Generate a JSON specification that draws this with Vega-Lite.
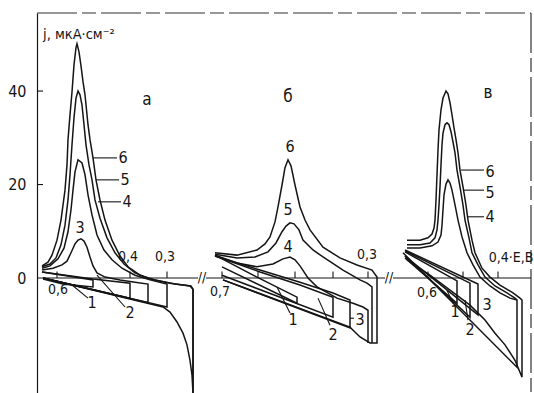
{
"$schema":"https://vega.github.io/schema/vega-lite/v6.json",
"width":494,"height":380,"autosize":"none",
"padding":{"left":37,"top":13,"right":3,"bottom":0},
"background":"white",
"config":{"view":{"stroke":null},"font":"Liberation Sans Narrow, DejaVu Sans Condensed, Liberation Sans, sans-serif"},
"datasets":{
"curves":[
{"c":"a6","o":1,"x":42,"j":2.6},{"c":"a6","o":2,"x":48,"j":3.4},{"c":"a6","o":3,"x":52,"j":4.9},{"c":"a6","o":4,"x":57,"j":8.1},{"c":"a6","o":5,"x":61,"j":12.4},{"c":"a6","o":6,"x":65,"j":18.8},{"c":"a6","o":7,"x":67,"j":24.2},{"c":"a6","o":8,"x":68,"j":29.6},{"c":"a6","o":9,"x":70,"j":34.9},{"c":"a6","o":10,"x":72,"j":39.8},{"c":"a6","o":11,"x":74,"j":45.6},{"c":"a6","o":12,"x":76,"j":49.3},{"c":"a6","o":13,"x":77,"j":50.1},{"c":"a6","o":14,"x":79,"j":48.4},{"c":"a6","o":15,"x":81,"j":45.4},{"c":"a6","o":16,"x":83,"j":42.0},{"c":"a6","o":17,"x":85,"j":39.2},{"c":"a6","o":18,"x":88,"j":32.8},{"c":"a6","o":19,"x":90,"j":29.6},{"c":"a6","o":20,"x":93,"j":25.7},{"c":"a6","o":21,"x":96,"j":21.0},{"c":"a6","o":22,"x":100,"j":16.7},{"c":"a6","o":23,"x":105,"j":12.4},{"c":"a6","o":24,"x":112,"j":8.1},{"c":"a6","o":25,"x":120,"j":4.7},{"c":"a6","o":26,"x":128,"j":2.4},{"c":"a6","o":27,"x":140,"j":0.6},{"c":"a6","o":28,"x":155,"j":-0.4},{"c":"a6","o":29,"x":175,"j":-1.3},{"c":"a6","o":30,"x":191,"j":-1.7},{"c":"a6","o":31,"x":193,"j":-2.4},{"c":"a6","o":32,"x":193,"j":-24.6},{"c":"a6","o":33,"x":192,"j":-20.8},{"c":"a6","o":34,"x":190,"j":-17.6},{"c":"a6","o":35,"x":187,"j":-14.3},{"c":"a6","o":36,"x":183,"j":-11.8},{"c":"a6","o":37,"x":177,"j":-9.4},{"c":"a6","o":38,"x":170,"j":-7.3},{"c":"a6","o":39,"x":163,"j":-6.2},{"c":"a6","o":40,"x":43,"j":0},
{"c":"a5","o":1,"x":42,"j":2.4},{"c":"a5","o":2,"x":50,"j":3.0},{"c":"a5","o":3,"x":56,"j":4.3},{"c":"a5","o":4,"x":61,"j":7.1},{"c":"a5","o":5,"x":65,"j":11.3},{"c":"a5","o":6,"x":68,"j":16.7},{"c":"a5","o":7,"x":70,"j":22.1},{"c":"a5","o":8,"x":72,"j":28.5},{"c":"a5","o":9,"x":74,"j":34.3},{"c":"a5","o":10,"x":76,"j":38.5},{"c":"a5","o":11,"x":78,"j":40.0},{"c":"a5","o":12,"x":80,"j":39.2},{"c":"a5","o":13,"x":82,"j":37.0},{"c":"a5","o":14,"x":84,"j":32.8},{"c":"a5","o":15,"x":86,"j":28.5},{"c":"a5","o":16,"x":89,"j":24.2},{"c":"a5","o":17,"x":92,"j":21.0},{"c":"a5","o":18,"x":95,"j":16.7},{"c":"a5","o":19,"x":100,"j":12.8},{"c":"a5","o":20,"x":107,"j":8.6},{"c":"a5","o":21,"x":115,"j":5.4},{"c":"a5","o":22,"x":124,"j":3.0},{"c":"a5","o":23,"x":135,"j":1.1},{"c":"a5","o":24,"x":150,"j":-0.2},{"c":"a5","o":25,"x":170,"j":-1.1},{"c":"a5","o":26,"x":190,"j":-1.7},{"c":"a5","o":27,"x":193,"j":-2.4},{"c":"a5","o":28,"x":193,"j":-24.6},
{"c":"a4","o":1,"x":42,"j":2.1},{"c":"a4","o":2,"x":50,"j":2.6},{"c":"a4","o":3,"x":58,"j":4.1},{"c":"a4","o":4,"x":64,"j":6.4},{"c":"a4","o":5,"x":68,"j":9.9},{"c":"a4","o":6,"x":71,"j":14.6},{"c":"a4","o":7,"x":73,"j":18.8},{"c":"a4","o":8,"x":75,"j":22.7},{"c":"a4","o":9,"x":78,"j":25.3},{"c":"a4","o":10,"x":82,"j":24.6},{"c":"a4","o":11,"x":85,"j":22.1},{"c":"a4","o":12,"x":88,"j":17.8},{"c":"a4","o":13,"x":92,"j":13.5},{"c":"a4","o":14,"x":97,"j":9.2},{"c":"a4","o":15,"x":104,"j":6.0},{"c":"a4","o":16,"x":112,"j":3.9},{"c":"a4","o":17,"x":122,"j":2.1},{"c":"a4","o":18,"x":135,"j":0.6},{"c":"a4","o":19,"x":150,"j":-0.4},{"c":"a4","o":20,"x":167,"j":-1.3},{"c":"a4","o":21,"x":167,"j":-6.2},{"c":"a4","o":22,"x":43,"j":0},
{"c":"a3","o":1,"x":42,"j":1.7},{"c":"a3","o":2,"x":53,"j":2.1},{"c":"a3","o":3,"x":62,"j":2.8},{"c":"a3","o":4,"x":67,"j":3.6},{"c":"a3","o":5,"x":71,"j":5.4},{"c":"a3","o":6,"x":75,"j":7.3},{"c":"a3","o":7,"x":78,"j":8.1},{"c":"a3","o":8,"x":81,"j":8.4},{"c":"a3","o":9,"x":84,"j":7.9},{"c":"a3","o":10,"x":87,"j":6.6},{"c":"a3","o":11,"x":90,"j":4.5},{"c":"a3","o":12,"x":93,"j":2.6},{"c":"a3","o":13,"x":97,"j":1.1},{"c":"a3","o":14,"x":105,"j":0.2},{"c":"a3","o":15,"x":120,"j":-0.4},{"c":"a3","o":16,"x":135,"j":-0.9},{"c":"a3","o":17,"x":148,"j":-1.3},{"c":"a3","o":18,"x":148,"j":-5.3},{"c":"a3","o":19,"x":43,"j":0},
{"c":"a2","o":1,"x":42,"j":1.3},{"c":"a2","o":2,"x":93,"j":-0.2},{"c":"a2","o":3,"x":130,"j":-1.1},{"c":"a2","o":4,"x":130,"j":-4.3},{"c":"a2","o":5,"x":43,"j":0},
{"c":"a1","o":1,"x":42,"j":1.3},{"c":"a1","o":2,"x":93,"j":-0.4},{"c":"a1","o":3,"x":93,"j":-1.9},{"c":"a1","o":4,"x":63,"j":-1.3},{"c":"a1","o":5,"x":43,"j":-0.2},
{"c":"b6","o":1,"x":215,"j":5.4},{"c":"b6","o":2,"x":237,"j":4.9},{"c":"b6","o":3,"x":257,"j":6.0},{"c":"b6","o":4,"x":265,"j":7.3},{"c":"b6","o":5,"x":270,"j":8.8},{"c":"b6","o":6,"x":275,"j":12.0},{"c":"b6","o":7,"x":278,"j":15.2},{"c":"b6","o":8,"x":282,"j":19.9},{"c":"b6","o":9,"x":285,"j":23.6},{"c":"b6","o":10,"x":288,"j":25.3},{"c":"b6","o":11,"x":291,"j":24.0},{"c":"b6","o":12,"x":295,"j":19.9},{"c":"b6","o":13,"x":300,"j":15.2},{"c":"b6","o":14,"x":305,"j":12.4},{"c":"b6","o":15,"x":310,"j":10.3},{"c":"b6","o":16,"x":323,"j":6.6},{"c":"b6","o":17,"x":340,"j":4.3},{"c":"b6","o":18,"x":357,"j":2.8},{"c":"b6","o":19,"x":372,"j":1.7},{"c":"b6","o":20,"x":377,"j":0.2},{"c":"b6","o":21,"x":377,"j":-13.9},{"c":"b6","o":22,"x":370,"j":-13.9},{"c":"b6","o":23,"x":360,"j":-12.6},{"c":"b6","o":24,"x":350,"j":-10.5},{"c":"b6","o":25,"x":223,"j":-0.4},
{"c":"b5","o":1,"x":215,"j":5.1},{"c":"b5","o":2,"x":237,"j":4.3},{"c":"b5","o":3,"x":255,"j":4.5},{"c":"b5","o":4,"x":268,"j":5.6},{"c":"b5","o":5,"x":276,"j":7.5},{"c":"b5","o":6,"x":282,"j":9.9},{"c":"b5","o":7,"x":286,"j":11.1},{"c":"b5","o":8,"x":290,"j":11.8},{"c":"b5","o":9,"x":294,"j":11.6},{"c":"b5","o":10,"x":299,"j":10.3},{"c":"b5","o":11,"x":303,"j":8.1},{"c":"b5","o":12,"x":313,"j":6.0},{"c":"b5","o":13,"x":323,"j":4.5},{"c":"b5","o":14,"x":343,"j":1.7},{"c":"b5","o":15,"x":360,"j":-0.4},{"c":"b5","o":16,"x":367,"j":-1.1},{"c":"b5","o":17,"x":372,"j":-1.9},{"c":"b5","o":18,"x":372,"j":-13.9},
{"c":"b4","o":1,"x":215,"j":4.9},{"c":"b4","o":2,"x":237,"j":3.2},{"c":"b4","o":3,"x":257,"j":2.4},{"c":"b4","o":4,"x":273,"j":3.0},{"c":"b4","o":5,"x":283,"j":4.1},{"c":"b4","o":6,"x":290,"j":4.5},{"c":"b4","o":7,"x":295,"j":3.9},{"c":"b4","o":8,"x":300,"j":2.6},{"c":"b4","o":9,"x":308,"j":0},{"c":"b4","o":10,"x":317,"j":-1.9},{"c":"b4","o":11,"x":337,"j":-4.3},{"c":"b4","o":12,"x":353,"j":-5.4},{"c":"b4","o":13,"x":363,"j":-6.2},{"c":"b4","o":14,"x":368,"j":-6.9},{"c":"b4","o":15,"x":368,"j":-13.9},
{"c":"b3","o":1,"x":215,"j":4.7},{"c":"b3","o":2,"x":260,"j":1.7},{"c":"b3","o":3,"x":300,"j":-0.9},{"c":"b3","o":4,"x":333,"j":-3.2},{"c":"b3","o":5,"x":350,"j":-4.7},{"c":"b3","o":6,"x":350,"j":-10.7},{"c":"b3","o":7,"x":223,"j":-0.4},
{"c":"b2","o":1,"x":215,"j":4.7},{"c":"b2","o":2,"x":260,"j":1.3},{"c":"b2","o":3,"x":300,"j":-1.5},{"c":"b2","o":4,"x":333,"j":-4.1},{"c":"b2","o":5,"x":333,"j":-8.4},{"c":"b2","o":6,"x":222,"j":0.6},
{"c":"b1","o":1,"x":215,"j":4.9},{"c":"b1","o":2,"x":255,"j":0.4},{"c":"b1","o":3,"x":297,"j":-4.1},{"c":"b1","o":4,"x":297,"j":-5.4},{"c":"b1","o":5,"x":222,"j":2.4},
{"c":"v6","o":1,"x":407,"j":8.1},{"c":"v6","o":2,"x":420,"j":8.1},{"c":"v6","o":3,"x":428,"j":8.6},{"c":"v6","o":4,"x":432,"j":9.4},{"c":"v6","o":5,"x":434,"j":10.7},{"c":"v6","o":6,"x":435,"j":12.4},{"c":"v6","o":7,"x":436,"j":16.7},{"c":"v6","o":8,"x":437,"j":22.1},{"c":"v6","o":9,"x":438,"j":27.4},{"c":"v6","o":10,"x":439,"j":31.7},{"c":"v6","o":11,"x":441,"j":36.0},{"c":"v6","o":12,"x":443,"j":38.5},{"c":"v6","o":13,"x":446,"j":40.0},{"c":"v6","o":14,"x":448,"j":39.4},{"c":"v6","o":15,"x":450,"j":37.5},{"c":"v6","o":16,"x":452,"j":34.9},{"c":"v6","o":17,"x":454,"j":32.1},{"c":"v6","o":18,"x":456,"j":29.6},{"c":"v6","o":19,"x":458,"j":26.8},{"c":"v6","o":20,"x":460,"j":23.1},{"c":"v6","o":21,"x":463,"j":19.5},{"c":"v6","o":22,"x":466,"j":15.6},{"c":"v6","o":23,"x":468,"j":12.4},{"c":"v6","o":24,"x":472,"j":8.1},{"c":"v6","o":25,"x":475,"j":5.4},{"c":"v6","o":26,"x":482,"j":2.1},{"c":"v6","o":27,"x":490,"j":0.2},{"c":"v6","o":28,"x":500,"j":-1.5},{"c":"v6","o":29,"x":513,"j":-3.2},{"c":"v6","o":30,"x":520,"j":-4.3},{"c":"v6","o":31,"x":522,"j":-4.7},{"c":"v6","o":32,"x":522,"j":-21.2},{"c":"v6","o":33,"x":515,"j":-17.6},{"c":"v6","o":34,"x":505,"j":-14.3},{"c":"v6","o":35,"x":495,"j":-11.8},{"c":"v6","o":36,"x":485,"j":-9.0},{"c":"v6","o":37,"x":470,"j":-5.8},{"c":"v6","o":38,"x":450,"j":-2.6},{"c":"v6","o":39,"x":430,"j":0.6},{"c":"v6","o":40,"x":407,"j":3.9},
{"c":"v5","o":1,"x":407,"j":7.1},{"c":"v5","o":2,"x":420,"j":7.1},{"c":"v5","o":3,"x":430,"j":7.5},{"c":"v5","o":4,"x":435,"j":8.6},{"c":"v5","o":5,"x":437,"j":10.3},{"c":"v5","o":6,"x":438,"j":12.4},{"c":"v5","o":7,"x":439,"j":15.6},{"c":"v5","o":8,"x":440,"j":19.5},{"c":"v5","o":9,"x":441,"j":24.2},{"c":"v5","o":10,"x":442,"j":28.5},{"c":"v5","o":11,"x":443,"j":31.0},{"c":"v5","o":12,"x":445,"j":32.8},{"c":"v5","o":13,"x":447,"j":33.2},{"c":"v5","o":14,"x":449,"j":32.8},{"c":"v5","o":15,"x":451,"j":31.3},{"c":"v5","o":16,"x":453,"j":29.1},{"c":"v5","o":17,"x":455,"j":26.8},{"c":"v5","o":18,"x":457,"j":23.1},{"c":"v5","o":19,"x":460,"j":19.5},{"c":"v5","o":20,"x":463,"j":15.6},{"c":"v5","o":21,"x":465,"j":12.4},{"c":"v5","o":22,"x":469,"j":8.6},{"c":"v5","o":23,"x":472,"j":5.4},{"c":"v5","o":24,"x":478,"j":2.8},{"c":"v5","o":25,"x":485,"j":0.2},{"c":"v5","o":26,"x":495,"j":-1.7},{"c":"v5","o":27,"x":507,"j":-3.2},{"c":"v5","o":28,"x":515,"j":-4.3},{"c":"v5","o":29,"x":517,"j":-4.7},{"c":"v5","o":30,"x":517,"j":-19.1},{"c":"v5","o":31,"x":403,"j":5.4},
{"c":"v4","o":1,"x":407,"j":6.4},{"c":"v4","o":2,"x":420,"j":6.4},{"c":"v4","o":3,"x":432,"j":6.9},{"c":"v4","o":4,"x":438,"j":7.7},{"c":"v4","o":5,"x":441,"j":9.2},{"c":"v4","o":6,"x":442,"j":11.3},{"c":"v4","o":7,"x":443,"j":14.6},{"c":"v4","o":8,"x":444,"j":17.8},{"c":"v4","o":9,"x":446,"j":20.1},{"c":"v4","o":10,"x":448,"j":21.0},{"c":"v4","o":11,"x":450,"j":20.3},{"c":"v4","o":12,"x":452,"j":18.8},{"c":"v4","o":13,"x":454,"j":16.7},{"c":"v4","o":14,"x":456,"j":14.6},{"c":"v4","o":15,"x":458,"j":12.4},{"c":"v4","o":16,"x":462,"j":8.8},{"c":"v4","o":17,"x":467,"j":5.4},{"c":"v4","o":18,"x":473,"j":2.8},{"c":"v4","o":19,"x":480,"j":0.2},{"c":"v4","o":20,"x":490,"j":-1.7},{"c":"v4","o":21,"x":500,"j":-3.2},{"c":"v4","o":22,"x":510,"j":-4.3},{"c":"v4","o":23,"x":517,"j":-4.7},
{"c":"v3","o":1,"x":405,"j":6.0},{"c":"v3","o":2,"x":478,"j":-1.3},{"c":"v3","o":3,"x":478,"j":-7.9},{"c":"v3","o":4,"x":405,"j":4.7},
{"c":"v2","o":1,"x":405,"j":5.8},{"c":"v2","o":2,"x":470,"j":-1.1},{"c":"v2","o":3,"x":470,"j":-8.4},{"c":"v2","o":4,"x":405,"j":4.7},
{"c":"v1","o":1,"x":405,"j":5.6},{"c":"v1","o":2,"x":457,"j":-0.6},{"c":"v1","o":3,"x":457,"j":-5.4},{"c":"v1","o":4,"x":405,"j":4.3}
],
"segs":[
{"x":37,"x2":198,"j":0,"j2":0},{"x":206,"x2":385,"j":0,"j2":0},{"x":393,"x2":531,"j":0,"j2":0},
{"x":37,"x2":43,"j":20,"j2":20},{"x":37,"x2":43,"j":40,"j2":40},
{"x":57,"x2":57,"j":0,"j2":1.4},{"x":130,"x2":130,"j":0,"j2":1.4},{"x":167,"x2":167,"j":0,"j2":1.4},{"x":222,"x2":222,"j":0,"j2":1.4},{"x":258,"x2":258,"j":0,"j2":1.4},{"x":295,"x2":295,"j":0,"j2":1.4},{"x":333,"x2":333,"j":0,"j2":1.4},{"x":368,"x2":368,"j":0,"j2":1.4},{"x":428,"x2":428,"j":0,"j2":1.4},{"x":463,"x2":463,"j":0,"j2":1.4},{"x":498,"x2":498,"j":0,"j2":1.4},
{"x":93,"x2":117,"j":25.7,"j2":25.7},{"x":96,"x2":119,"j":21.0,"j2":21.0},{"x":98,"x2":121,"j":16.3,"j2":16.3},
{"x":72,"x2":88,"j":-1.5,"j2":-4.3},{"x":97,"x2":125,"j":0.6,"j2":-6.2},
{"x":277,"x2":290,"j":-1.9,"j2":-7.5},{"x":318,"x2":330,"j":-4.3,"j2":-10.1},{"x":350,"x2":354,"j":-8.6,"j2":-8.6},
{"x":461,"x2":484,"j":23.1,"j2":23.1},{"x":464,"x2":484,"j":18.8,"j2":18.8},{"x":467,"x2":484,"j":13.1,"j2":13.1},
{"x":447,"x2":453,"j":-2.6,"j2":-5.4},{"x":465,"x2":468,"j":-4.7,"j2":-9.0}
],
"frame":[{"x":37,"x2":531,"j":56.7,"j2":56.7},{"x":531,"x2":531,"j":56.7,"j2":-24.6}],
"nums":[
{"t":"6","x":123,"j":25.7},{"t":"5","x":125,"j":21.0},{"t":"4","x":127,"j":16.3},{"t":"3","x":80,"j":10.7},{"t":"1","x":92,"j":-5.4},{"t":"2","x":130,"j":-7.5},
{"t":"6","x":290,"j":28.1},{"t":"5","x":288,"j":14.6},{"t":"4","x":288,"j":6.6},{"t":"1","x":293,"j":-9.0},{"t":"2","x":333,"j":-12.2},{"t":"3","x":360,"j":-9.0},
{"t":"6","x":490,"j":22.7},{"t":"5","x":490,"j":18.2},{"t":"4","x":490,"j":13.1},{"t":"1","x":455,"j":-7.3},{"t":"2","x":470,"j":-11.1},{"t":"3","x":487,"j":-5.8}
],
"ticklabels":[
{"t":"0,4","x":128,"j":4.5},{"t":"0,3","x":165,"j":4.5},{"t":"0,6","x":58,"j":-2.6},
{"t":"0,7","x":220,"j":-3.0},{"t":"0,3","x":367,"j":4.9},
{"t":"0,6","x":427,"j":-3.2},{"t":"0,4·E,В","x":511,"j":4.3},
{"t":"//","x":202,"j":0},{"t":"//","x":389,"j":0}
],
"panels":[{"t":"a","x":147,"j":38.1},{"t":"б","x":288,"j":38.8},{"t":"в","x":488,"j":39.6}],
"title":[{"t":"j, мкА·см⁻²","x":43,"j":51.1}]
},
"layer":[
{"data":{"name":"curves"},"mark":{"type":"line","color":"#151515","strokeWidth":1.5,"clip":true},
"encoding":{
"x":{"field":"x","type":"quantitative","scale":{"domain":[37,531],"nice":false,"zero":false},"axis":null},
"y":{"field":"j","type":"quantitative","scale":{"domain":[-24.6,56.7],"nice":false,"zero":false},
"axis":{"values":[0,20,40],"ticks":false,"grid":false,"title":null,"labelPadding":11,"labelFontSize":16,"labelColor":"#151515","domainColor":"#151515","domainWidth":1.2,"labelBaseline":"middle"}},
"detail":{"field":"c"},"order":{"field":"o","type":"quantitative"}}},
{"data":{"name":"segs"},"mark":{"type":"rule","color":"#151515","strokeWidth":1.1},
"encoding":{"x":{"field":"x","type":"quantitative"},"x2":{"field":"x2"},"y":{"field":"j","type":"quantitative"},"y2":{"field":"j2"}}},
{"data":{"name":"frame"},"mark":{"type":"rule","color":"#333","strokeWidth":1.2,"strokeDash":[40,5,14,5]},
"encoding":{"x":{"field":"x","type":"quantitative"},"x2":{"field":"x2"},"y":{"field":"j","type":"quantitative"},"y2":{"field":"j2"}}},
{"data":{"name":"nums"},"mark":{"type":"text","fontSize":16,"color":"#151515","align":"center","baseline":"middle"},
"encoding":{"x":{"field":"x","type":"quantitative"},"y":{"field":"j","type":"quantitative"},"text":{"field":"t"}}},
{"data":{"name":"ticklabels"},"mark":{"type":"text","fontSize":14,"color":"#151515","align":"center","baseline":"middle"},
"encoding":{"x":{"field":"x","type":"quantitative"},"y":{"field":"j","type":"quantitative"},"text":{"field":"t"}}},
{"data":{"name":"panels"},"mark":{"type":"text","fontSize":17,"color":"#151515","align":"center","baseline":"middle"},
"encoding":{"x":{"field":"x","type":"quantitative"},"y":{"field":"j","type":"quantitative"},"text":{"field":"t"}}},
{"data":{"name":"title"},"mark":{"type":"text","fontSize":14.5,"color":"#151515","align":"left","baseline":"alphabetic"},
"encoding":{"x":{"field":"x","type":"quantitative"},"y":{"field":"j","type":"quantitative"},"text":{"field":"t"}}}
]
}
